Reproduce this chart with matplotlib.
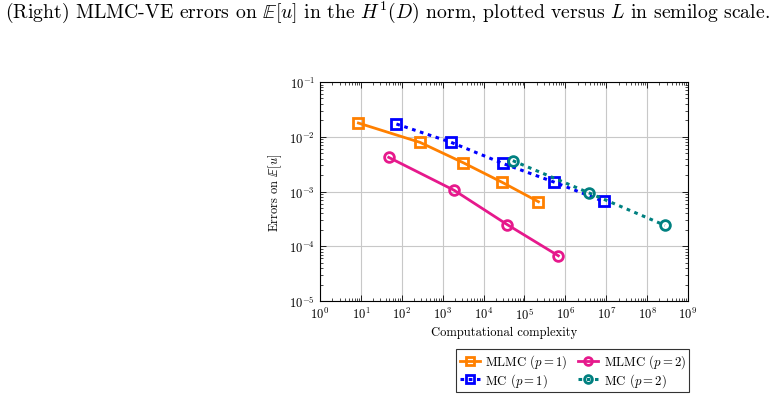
import matplotlib
matplotlib.use("Agg")
import matplotlib.pyplot as plt
from matplotlib.ticker import LogLocator, NullFormatter

plt.rcParams['font.family'] = ['cmr10']
plt.rcParams['mathtext.fontset'] = 'cm'
plt.rcParams['axes.formatter.use_mathtext'] = True

# Data
mlmc1_cost = [8.7, 279, 3170, 28600, 220000]
mlmc1_err = [0.0178, 0.0079, 0.00336, 0.00147, 0.00065]
mlmc2_cost = [48, 1920, 38100, 675000]
mlmc2_err = [0.0042, 0.00105, 0.000248, 6.7e-5]
mc1_cost = [74, 1614, 29100, 525000, 8.6e6]
mc1_err = [0.0171, 0.0079, 0.00327, 0.00149, 0.00066]
mc2_cost = [51900, 3.83e6, 2.72e8]
mc2_err = [0.00366, 0.00094, 0.000241]

labels = [r'MLMC ($p=1$)', r'MLMC ($p=2$)', r'MC ($p=1$)', r'MC ($p=2$)']
title = r'(Right) MLMC-VE errors on $\mathbb{E}[u]$ in the $H^1(D)$ norm, plotted versus $L$ in semilog scale.'

fig = plt.figure(figsize=(7.83, 4.10), dpi=100)
ax = fig.add_axes([320/783, 1-302/410, 368/783, 219/410])

orange = '#ff8000'
magenta = '#e6198c'
blue = '#0000ff'
teal = '#008080'

l1, = ax.plot(mlmc1_cost, mlmc1_err, color=orange, lw=2, marker='s', ms=7,
              mfc='none', mew=2, label=labels[0])
l2, = ax.plot(mlmc2_cost, mlmc2_err, color=magenta, lw=2, marker='o', ms=7,
              mfc='none', mew=2, label=labels[1])
l3, = ax.plot(mc1_cost, mc1_err, color=blue, lw=2.2, ls=(0, (1.2, 1.5)), marker='s', ms=7,
              mfc='none', mew=2, label=labels[2])
l4, = ax.plot(mc2_cost, mc2_err, color=teal, lw=2.2, ls=(0, (1.2, 1.5)), marker='o', ms=7,
              mfc='none', mew=2, label=labels[3])

ax.set_xscale('log')
ax.set_yscale('log')
ax.set_xlim(1, 1e9)
ax.set_ylim(1e-5, 1e-1)
ax.xaxis.set_major_locator(LogLocator(base=10, numticks=20))
ax.yaxis.set_major_locator(LogLocator(base=10, numticks=20))
ax.xaxis.set_minor_locator(LogLocator(base=10, subs=range(2, 10), numticks=20))
ax.yaxis.set_minor_locator(LogLocator(base=10, subs=range(2, 10), numticks=20))
ax.xaxis.set_minor_formatter(NullFormatter())
ax.yaxis.set_minor_formatter(NullFormatter())
ax.tick_params(which='both', direction='in', top=True, right=True, labelsize=9)
ax.tick_params(which='major', length=4, width=0.6)
ax.tick_params(which='minor', length=2, width=0.5)
ax.grid(True, which='major', color='#c8c8c8', lw=0.8)
ax.set_axisbelow(True)
for s in ax.spines.values():
    s.set_linewidth(0.8)

ax.set_xlabel('Computational complexity', fontsize=9, labelpad=3)
ax.set_ylabel(r'Errors on $\mathbb{E}[u]$', fontsize=9, labelpad=4)

fig.text(5/783, 1-12/410, title, fontsize=14.2, va='center', ha='left')

leg = fig.legend(handles=[l1, l3, l2, l4], labels=[labels[0], labels[2], labels[1], labels[3]],
                 ncol=2, loc='upper left', bbox_to_anchor=(450/783, 1-344/410),
                 fontsize=9.2, frameon=True, fancybox=False, edgecolor='black',
                 handlelength=1.6, handletextpad=0.4, columnspacing=0.8,
                 borderpad=0.25, labelspacing=0.05, markerscale=0.8)
leg.get_frame().set_linewidth(0.8)

fig.savefig('out.png', dpi=100)
